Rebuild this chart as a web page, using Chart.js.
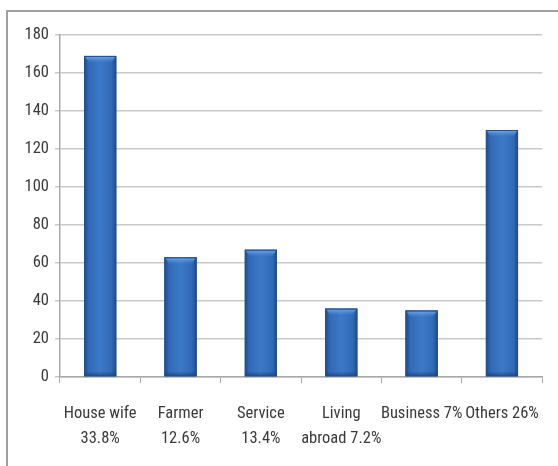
<!DOCTYPE html>
<html>
<head>
<meta charset="utf-8">
<script src="https://cdn.jsdelivr.net/npm/chart.js@4/dist/chart.umd.min.js"></script>
<style>
  html, body { margin: 0; padding: 0; background: #fff; }
  #wrap { position: relative; width: 558px; height: 466px; overflow: hidden; }
  #frame { position: absolute; left: 6px; top: 10px; width: 600px; height: 500px; border-left: 2px solid #a0a0a0; border-top: 2px solid #a0a0a0; }
  canvas { position: absolute; left: 0; top: 0; }
</style>
</head>
<body>
<div id="wrap">
  <div id="frame"></div>
  <canvas id="c" width="558" height="466"></canvas>
</div>
<script>
const categories = [
  ["House wife", "33.8%"],
  ["Farmer", "12.6%"],
  ["Service", "13.4%"],
  ["Living", "abroad 7.2%"],
  "Business 7%",
  "Others 26%"
];
const counts = [169, 63, 67, 36, 35, 130];
const yTicks = [0, 20, 40, 60, 80, 100, 120, 140, 160, 180];

const FONT = "'Liberation Sans Narrow', 'Roboto Condensed', Roboto, 'Open Sans', sans-serif";

const barShade = {
  id: 'barShade',
  afterDatasetsDraw(chart) {
    const ctx = chart.ctx;
    chart.getDatasetMeta(0).data.forEach(el => {
      const left = el.x - el.width / 2, w = el.width;
      const top = el.y, bottom = el.base;
      ctx.save();
      const g = ctx.createLinearGradient(left, 0, left + w, 0);
      g.addColorStop(0, '#1e4a85');
      g.addColorStop(0.14, '#3169b5');
      g.addColorStop(0.5, '#3d79c9');
      g.addColorStop(0.86, '#3169b5');
      g.addColorStop(1, '#1e4a85');
      ctx.fillStyle = g;
      ctx.fillRect(left, top, w, bottom - top);
      const tg = ctx.createLinearGradient(0, top, 0, top + 7);
      tg.addColorStop(0, 'rgba(120,175,240,1)');
      tg.addColorStop(1, 'rgba(80,140,215,0)');
      ctx.fillStyle = tg;
      ctx.beginPath();
      ctx.moveTo(left + 1, top + 1);
      ctx.lineTo(left + w - 1, top + 1);
      ctx.lineTo(left + w - 5, top + 7);
      ctx.lineTo(left + 5, top + 7);
      ctx.closePath();
      ctx.fill();
      const bg = ctx.createLinearGradient(0, bottom - 5, 0, bottom);
      bg.addColorStop(0, 'rgba(20,50,100,0)');
      bg.addColorStop(1, 'rgba(20,50,100,0.6)');
      ctx.fillStyle = bg;
      ctx.fillRect(left, bottom - 5, w, 5);
      ctx.strokeStyle = '#234f8c';
      ctx.lineWidth = 1;
      ctx.strokeRect(left + 0.5, top + 0.5, w - 1, bottom - top - 1);
      ctx.restore();
    });
  }
};

new Chart(document.getElementById('c'), {
  type: 'bar',
  data: {
    labels: categories,
    datasets: [{
      data: counts,
      backgroundColor: '#3a74bf',
      borderWidth: 0,
      categoryPercentage: 1.0,
      barPercentage: 0.4
    }]
  },
  plugins: [barShade],
  options: {
    responsive: false,
    animation: false,
    layout: { padding: { top: 35, right: 15, left: 0, bottom: 0 } },
    plugins: { legend: { display: false }, tooltip: { enabled: false } },
    scales: {
      x: {
        grid: { display: true, drawOnChartArea: false, drawTicks: true, tickLength: 6, color: '#a8a8a8', lineWidth: 1 },
        border: { display: true, color: '#a8a8a8', width: 1.5 },
        ticks: { color: '#3a3a3a', font: { family: FONT, size: 16.5, lineHeight: 1.55 }, padding: 18, maxRotation: 0, autoSkip: false },
        afterFit(s) { s.height = 89; }
      },
      y: {
        min: 0, max: 180,
        afterBuildTicks(s) { s.ticks = yTicks.map(v => ({ value: v })); },
        grid: { color: '#c8c8c8', lineWidth: 1.5, tickLength: 5, drawTicks: true },
        border: { display: true, color: '#a8a8a8', width: 1.5 },
        ticks: { color: '#3a3a3a', font: { family: FONT, size: 16.5 }, padding: 6 },
        afterFit(s) { s.width = 60; }
      }
    }
  }
});
</script>
</body>
</html>
